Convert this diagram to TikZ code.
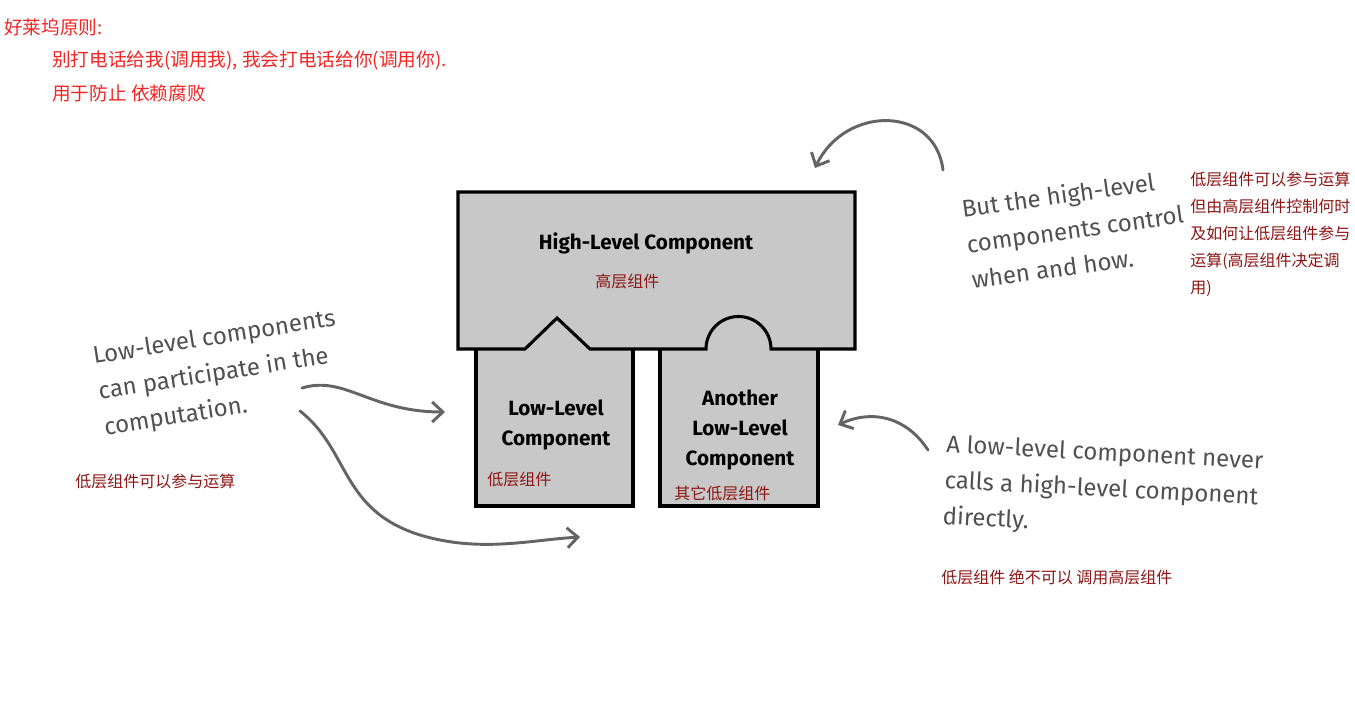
\documentclass[tikz,border=0pt]{standalone}
\usepackage{fontspec}
\setmainfont{Fira Sans}
\newfontfamily\cjk{Noto Sans CJK SC}
\usetikzlibrary{arrows.meta}
\definecolor{boxgray}{HTML}{C8C8C8}
\definecolor{notegray}{HTML}{505050}
\definecolor{arrowgray}{HTML}{646464}
\definecolor{rulered}{HTML}{F42424}
\definecolor{cnred}{HTML}{8E1414}
\begin{document}
\begin{tikzpicture}[x=.75pt,y=-.75pt,line join=miter,>={Straight Barb[length=8pt,width=15pt]}]
	\tikzset{comp/.style={fill=boxgray,draw=black,line width=2.3pt},
		compname/.style={font=\bfseries\fontsize{15.5}{22.5}\selectfont,align=center,inner sep=0pt},
		note/.style={text=notegray,font=\fontsize{18}{27}\selectfont,align=left,inner sep=0pt},
		cn/.style={text=cnred,font=\cjk\fontsize{12}{20.25}\selectfont,anchor=west,align=left,inner sep=0pt},
		rule/.style={text=rulered,font=\cjk\fontsize{14}{16}\selectfont,anchor=west,inner sep=0pt},
		link/.style={draw=arrowgray,line width=2.2pt,line cap=round,->}
	}
	\useasboundingbox (0,0) rectangle (1355,712);
	% hollywood rule
	\node[rule] (ruletitle) at (4,27) {好莱坞原则:};
	\node[rule] (ruleline) at (52,60) {别打电话给我(调用我), 我会打电话给你(调用你).};
	\node[rule] (ruleuse) at (52,93) {用于防止 依赖腐败};
	% components
	\fill[boxgray] (476,349)--(525,349)--(557,318)--(590,349)--(633,349)--(633,506)--(476,506)--cycle;
	\fill[boxgray] (660,349)--(706,349) arc[start angle=180,end angle=360,radius=32.5]
		--(818,349)--(818,506)--(660,506)--cycle;
	\draw[comp] (476,349)--(476,506)--(633,506)--(633,349);
	\draw[comp] (660,349)--(660,506)--(818,506)--(818,349);
	\draw[comp] (458,349)--(458,192)--(855,192)--(855,349)--(771,349)
		arc[start angle=0,end angle=-180,radius=32.5]--(590,349)--(557,318)--(525,349)--cycle;
	\node[compname] (hlc) at (646,243) {High-Level Component};
	\node[cn] (hlccn) at (595,281) {高层组件};
	\node[compname] (llc) at (556,425) {Low-Level\\Component};
	\node[cn] (llccn) at (487,479) {低层组件};
	\node[compname] (allc) at (740,430) {Another\\Low-Level\\Component};
	\node[cn] (allccn) at (674,493) {其它低层组件};
	% notes
	\node[note,rotate=9] (lownote) at (220,374) {Low-level components\\can participate in the\\computation.};
	\node[cn] (lowcn) at (75,481) {低层组件可以参与运算};
	\node[note,rotate=8] (highnote) at (1075,229) {But the high-level\\components control\\when and how.};
	\node[cn] (highcn) at (1190,234) {低层组件可以参与运算\\但由高层组件控制何时\\及如何让低层组件参与\\运算(高层组件决定调\\用)};
	\node[note,rotate=-3] (nevernote) at (1103,490) {A low-level component never\\calls a high-level component\\directly.};
	\node[cn] (nevercn) at (941,577) {低层组件 绝不可以 调用高层组件};
	% arrows
	\coordinate (ctrlfrom) at (943,170);
	\coordinate (ctrlto) at (815,168);
	\coordinate (joinfrom) at (302,388);
	\coordinate (jointo) at (445,412);
	\coordinate (compfrom) at (300,411);
	\coordinate (compto) at (580,537);
	\coordinate (neverfrom) at (928,450);
	\coordinate (neverto) at (838,425);
	\draw[link] (ctrlfrom) .. controls (935,105) and (845,105) .. (ctrlto);
	\draw[link] (joinfrom) .. controls (345,375) and (370,412) .. (jointo);
	\draw[link] (compfrom) .. controls (350,450) and (340,510) .. (420,535)
		.. controls (480,553) and (530,540) .. (compto);
	\draw[link] (neverfrom) .. controls (905,415) and (870,410) .. (neverto);
\end{tikzpicture}
\end{document}
